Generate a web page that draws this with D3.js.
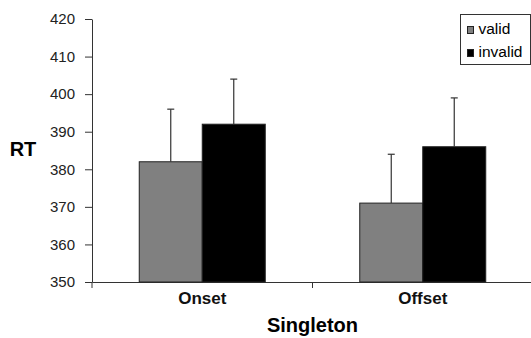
<!DOCTYPE html>
<html>
<head>
<meta charset="utf-8">
<script src="https://d3js.org/d3.v7.min.js"></script>
<style>
  body { margin: 0; background: #fff; }
  text { font-family: "Liberation Sans", Arial, sans-serif; }
</style>
</head>
<body>
<svg id="chart" width="531" height="338"></svg>
<script>
// data
var categories = ["Onset", "Offset"];
var series = ["valid", "invalid"];
var validMeans = [382, 371];
var invalidMeans = [392, 386];
var validErr = [14, 13];
var invalidErr = [12, 13];
var yTicks = [350, 360, 370, 380, 390, 400, 410, 420];
var colors = ["#808080", "#000000"];

var rows = categories.map(function(c, i) {
  return [
    { cat: c, key: "valid", v: validMeans[i], e: validErr[i] },
    { cat: c, key: "invalid", v: invalidMeans[i], e: invalidErr[i] }
  ];
});

var margin = { left: 92, top: 19, right: -2, bottom: 56 };
var W = 531, H = 338;
var svg = d3.select("#chart");

var x0 = d3.scaleBand().domain(categories).range([margin.left, W - margin.right]);
var bw = x0.bandwidth();
var w1 = bw / 3.5;
var x1 = d3.scaleBand().domain(series).range([0.75 * w1, bw - 0.75 * w1]);
var y = d3.scaleLinear().domain([350, 420]).range([H - margin.bottom, margin.top]);
var color = d3.scaleOrdinal().domain(series).range(colors);

// y axis
var yAxis = svg.append("g")
  .attr("transform", "translate(" + margin.left + ",0)")
  .call(d3.axisLeft(y).tickValues(yTicks).tickSize(7).tickSizeOuter(0).tickPadding(10));
yAxis.select(".domain").attr("stroke", "#333");
yAxis.selectAll(".tick line").attr("stroke", "#333");
yAxis.selectAll("text").attr("font-size", 15).attr("fill", "#222")
  .style("font-family", "Liberation Sans, Arial, sans-serif");

// x axis
var xAxis = svg.append("g")
  .attr("transform", "translate(0," + y(350) + ")")
  .call(d3.axisBottom(x0).tickSize(0).tickPadding(10));
xAxis.select(".domain").attr("stroke", "#333");
xAxis.selectAll("text").attr("font-size", 17).attr("font-weight", "bold").attr("fill", "#111")
  .style("font-family", "Liberation Sans, Arial, sans-serif");
// boundary ticks between categories
xAxis.selectAll(".bound")
  .data([categories[0], categories[1]])
  .enter().append("line")
  .attr("x1", function(d) { return x0(d); })
  .attr("x2", function(d) { return x0(d); })
  .attr("y1", 0).attr("y2", 6)
  .attr("stroke", "#333");

// bars
var groups = svg.selectAll(".grp")
  .data(rows)
  .enter().append("g")
  .attr("transform", function(d) { return "translate(" + x0(d[0].cat) + ",0)"; });

groups.selectAll("rect")
  .data(function(d) { return d; })
  .enter().append("rect")
  .attr("x", function(d) { return x1(d.key); })
  .attr("y", function(d) { return y(d.v); })
  .attr("width", x1.bandwidth())
  .attr("height", function(d) { return y(350) - y(d.v); })
  .attr("fill", function(d) { return color(d.key); })
  .attr("stroke", "#222")
  .attr("stroke-width", 1);

// error bars (upper only)
groups.selectAll(".err")
  .data(function(d) { return d; })
  .enter().append("line")
  .attr("x1", function(d) { return x1(d.key) + x1.bandwidth() / 2; })
  .attr("x2", function(d) { return x1(d.key) + x1.bandwidth() / 2; })
  .attr("y1", function(d) { return y(d.v); })
  .attr("y2", function(d) { return y(d.v + d.e); })
  .attr("stroke", "#333").attr("stroke-width", 1.2);
groups.selectAll(".cap")
  .data(function(d) { return d; })
  .enter().append("line")
  .attr("x1", function(d) { return x1(d.key) + x1.bandwidth() / 2 - 3.5; })
  .attr("x2", function(d) { return x1(d.key) + x1.bandwidth() / 2 + 3.5; })
  .attr("y1", function(d) { return y(d.v + d.e); })
  .attr("y2", function(d) { return y(d.v + d.e); })
  .attr("stroke", "#333").attr("stroke-width", 1.2);

// axis titles
svg.append("text")
  .attr("x", 23).attr("y", 156)
  .attr("text-anchor", "middle")
  .attr("font-size", 20).attr("font-weight", "bold")
  .text("RT");
svg.append("text")
  .attr("x", x0(categories[1])).attr("y", 332)
  .attr("text-anchor", "middle")
  .attr("font-size", 20).attr("font-weight", "bold")
  .text("Singleton");

// legend
var legend = svg.append("g").attr("transform", "translate(460.5,14.5)");
legend.append("rect")
  .attr("width", 70).attr("height", 50)
  .attr("fill", "#fff").attr("stroke", "#333");
var li = legend.selectAll(".li")
  .data(series)
  .enter().append("g")
  .attr("transform", function(d, i) { return "translate(7," + (12 + i * 23) + ")"; });
li.append("rect")
  .attr("width", 6).attr("height", 7)
  .attr("fill", function(d) { return color(d); })
  .attr("stroke", "#222");
li.append("text")
  .attr("x", 11).attr("y", 7.5)
  .attr("font-size", 15.5).attr("fill", "#000")
  .text(function(d) { return d; });
</script>
</body>
</html>
